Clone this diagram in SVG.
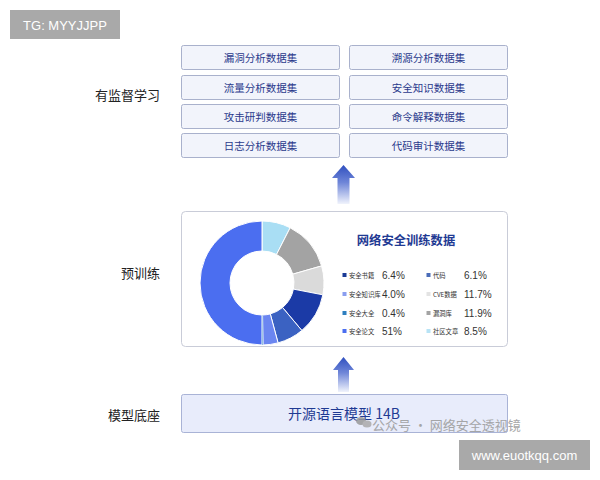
<svg xmlns="http://www.w3.org/2000/svg" width="600" height="480" viewBox="0 0 600 480">
<defs>
<style>
.lbl{font-family:"Noto Sans CJK SC","Liberation Sans",sans-serif;font-size:13px;fill:#222;text-anchor:end;dominant-baseline:central}
.ds rect{fill:#f2f4fb;stroke:#a9b1cc;stroke-width:1}
.ds text{font-family:"Noto Sans CJK SC",sans-serif;font-size:10.5px;fill:#2a3a8c;text-anchor:middle;dominant-baseline:central}
.lg{font-family:"Noto Sans CJK SC",sans-serif;font-size:6.3px;fill:#333;dominant-baseline:central}
.val{font-family:"Liberation Sans","Noto Sans",sans-serif;font-size:10px;fill:#333;dominant-baseline:central}
.seg{stroke:#fff;stroke-width:1}
</style>
<linearGradient id="arrowGrad" x1="0" y1="0" x2="0" y2="1">
<stop offset="0" stop-color="#2f4fbf"/>
<stop offset="0.45" stop-color="#6f86d8"/>
<stop offset="1" stop-color="#f0f3fc"/>
</linearGradient>
</defs>
<rect width="600" height="480" fill="#fff"/>

<g id="tg-label">
<rect x="10" y="10" width="110" height="29" fill="#a9a9a9"/>
<text x="65" y="25" font-family="Liberation Sans,sans-serif" font-size="13" fill="#fff" text-anchor="middle" dominant-baseline="central">TG: MYYJJPP</text>
</g>

<g id="row-labels">
<text class="lbl" x="160" y="94">有监督学习</text>
<text class="lbl" x="160" y="272">预训练</text>
<text class="lbl" x="160" y="414">模型底座</text>
</g>

<g id="datasets" class="ds">
<g id="ds1"><rect x="181.5" y="45.5" width="158" height="24" rx="2"/><text x="260.5" y="57.5">漏洞分析数据集</text></g>
<g id="ds2"><rect x="349.5" y="45.5" width="158" height="24" rx="2"/><text x="428.5" y="57.5">溯源分析数据集</text></g>
<g id="ds3"><rect x="181.5" y="75.5" width="158" height="24" rx="2"/><text x="260.5" y="87.5">流量分析数据集</text></g>
<g id="ds4"><rect x="349.5" y="75.5" width="158" height="24" rx="2"/><text x="428.5" y="87.5">安全知识数据集</text></g>
<g id="ds5"><rect x="181.5" y="104.5" width="158" height="24" rx="2"/><text x="260.5" y="116.5">攻击研判数据集</text></g>
<g id="ds6"><rect x="349.5" y="104.5" width="158" height="24" rx="2"/><text x="428.5" y="116.5">命令解释数据集</text></g>
<g id="ds7"><rect x="181.5" y="133.5" width="158" height="24" rx="2"/><text x="260.5" y="145.5">日志分析数据集</text></g>
<g id="ds8"><rect x="349.5" y="133.5" width="158" height="24" rx="2"/><text x="428.5" y="145.5">代码审计数据集</text></g>
</g>

<g id="connectors">
<path d="M343.5 165 L355 178 L349.5 178 L349.5 204 L337.5 204 L337.5 178 L332 178 Z" fill="url(#arrowGrad)"/>
<path d="M343.5 357 L354 370 L349 370 L349 392 L338 392 L338 370 L333 370 Z" fill="url(#arrowGrad)"/>
</g>

<g id="pretrain-panel">
<rect x="181.5" y="211.5" width="326" height="135" rx="4" fill="#fff" stroke="#c9ccd8"/>
<g id="donut">
<path class="seg" fill="#a9def4" d="M262 221 A62 62 0 0 1 290.15 227.76 L276.53 254.49 A32 32 0 0 0 262 251 Z"/>
<path class="seg" fill="#a3a3a3" d="M290.15 227.76 A62 62 0 0 1 321.6 265.91 L292.76 274.18 A32 32 0 0 0 276.53 254.49 Z"/>
<path class="seg" fill="#dadada" d="M321.6 265.91 A62 62 0 0 1 322.86 294.83 L293.41 289.11 A32 32 0 0 0 292.76 274.18 Z"/>
<path class="seg" fill="#1b3aa6" d="M322.86 294.83 A62 62 0 0 1 301.85 330.49 L282.57 307.51 A32 32 0 0 0 293.41 289.11 Z"/>
<path class="seg" fill="#3b62c2" d="M301.85 330.49 A62 62 0 0 1 278.05 342.89 L270.28 313.91 A32 32 0 0 0 282.57 307.51 Z"/>
<path class="seg" fill="#6b86f1" d="M278.05 342.89 A62 62 0 0 1 263.08 344.99 L262.56 315 A32 32 0 0 0 270.28 313.91 Z"/>
<path fill="#2e86c1" d="M263.08 344.99 A62 62 0 0 1 262 345 L262 315 A32 32 0 0 0 262.56 315 Z"/>
<path class="seg" fill="#4b6ef0" d="M262 345 A62 62 0 0 1 262 221 L262 251 A32 32 0 0 0 262 315 Z"/>
</g>
<text x="406" y="240" font-family="Noto Sans CJK SC,sans-serif" font-size="12.3" font-weight="bold" fill="#1f3a93" text-anchor="middle" dominant-baseline="central">网络安全训练数据</text>
<g id="legend">
<rect x="342.5" y="273" width="4" height="4" fill="#1b3a96"/><text class="lg" x="349" y="275">安全书籍</text><text class="val" x="382" y="275">6.4%</text>
<rect x="342.5" y="292" width="4" height="4" fill="#8a9ef0"/><text class="lg" x="349" y="294">安全知识库</text><text class="val" x="382" y="294">4.0%</text>
<rect x="342.5" y="311" width="4" height="4" fill="#2e7fbf"/><text class="lg" x="349" y="313">安全大全</text><text class="val" x="382" y="313">0.4%</text>
<rect x="342.5" y="329" width="4" height="4" fill="#4b6ef0"/><text class="lg" x="349" y="331">安全论文</text><text class="val" x="382" y="331">51%</text>
<rect x="426.5" y="273" width="4" height="4" fill="#4a6cb8"/><text class="lg" x="433" y="275">代码</text><text class="val" x="464" y="275">6.1%</text>
<rect x="426.5" y="292" width="4" height="4" fill="#e3e3e3"/><text class="lg" x="433" y="294">CVE数据</text><text class="val" x="464" y="294">11.7%</text>
<rect x="426.5" y="311" width="4" height="4" fill="#a3a3a3"/><text class="lg" x="433" y="313">漏洞库</text><text class="val" x="464" y="313">11.9%</text>
<rect x="426.5" y="329" width="4" height="4" fill="#b8e3f5"/><text class="lg" x="433" y="331">社区文章</text><text class="val" x="464" y="331">8.5%</text>
</g>
</g>

<g id="base-model">
<rect x="181.5" y="394.5" width="326" height="38" rx="2" fill="#e8ecfb" stroke="#a9b3d6"/>
<text x="344" y="413" font-family="Noto Sans CJK SC,sans-serif" font-size="14" fill="#1f3a93" text-anchor="middle" dominant-baseline="central">开源语言模型 14B</text>
</g>

<g id="watermark" opacity="0.85">
<ellipse cx="361" cy="421" rx="5" ry="4" fill="#999"/>
<ellipse cx="367" cy="424" rx="4.5" ry="3.5" fill="#aaa"/>
<text x="372" y="424" font-family="Noto Sans CJK SC,sans-serif" font-size="13" fill="#999" dominant-baseline="central">公众号 · 网络安全透视镜</text>
</g>

<g id="site-label">
<rect x="459" y="440" width="131" height="30" fill="#a9a9a9"/>
<text x="524.5" y="455" font-family="Liberation Sans,sans-serif" font-size="13" fill="#fff" text-anchor="middle" dominant-baseline="central">www.euotkqq.com</text>
</g>
</svg>
